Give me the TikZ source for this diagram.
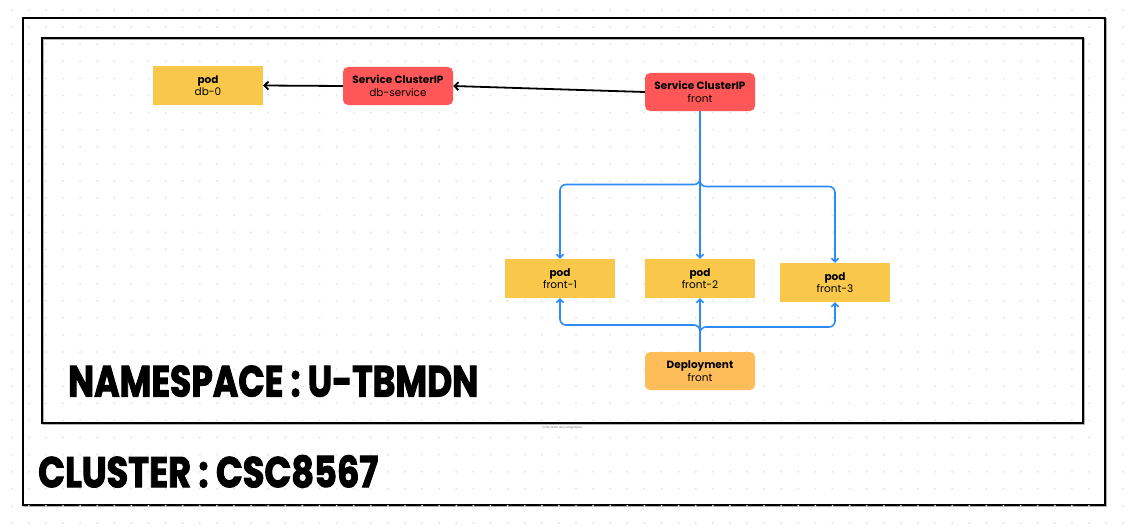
\documentclass[tikz,border=0pt]{standalone}
\usepackage{fontspec}
\usepackage{graphicx}
\setmainfont{Poppins}
\newfontfamily\heavyfont{Poppins}[FakeBold=2.5,UprightFont={* Bold}]
\usetikzlibrary{arrows.meta}
\definecolor{podyellow}{HTML}{F9C84A}
\definecolor{svcred}{HTML}{FF5757}
\definecolor{deporange}{HTML}{FFBD59}
\definecolor{linkblue}{HTML}{2E8BF5}
\definecolor{dotgray}{HTML}{E2E5EB}
\tikzset{
  podbox/.style={fill=podyellow, draw=none, minimum width=110pt, minimum height=39pt, inner sep=0pt, align=center, font=\fontsize{10.5}{12.5}\selectfont},
  svcbox/.style={fill=svcred, draw=none, rounded corners=5pt, minimum width=110pt, minimum height=38pt, inner sep=0pt, align=center, font=\fontsize{10.5}{12.5}\selectfont},
  depbox/.style={fill=deporange, draw=none, rounded corners=5pt, minimum width=110pt, minimum height=38pt, inner sep=0pt, align=center, font=\fontsize{10.5}{12.5}\selectfont},
  blackarrow/.style={draw=black, line width=1.8pt, -{Straight Barb[length=4pt,width=8pt]}},
  bluearrow/.style={draw=linkblue, line width=1.6pt, rounded corners=6pt, -{Straight Barb[length=3.5pt,width=7pt]}},
  frame/.style={draw=black, line width=2pt}
}
\begin{document}
\begin{tikzpicture}[x=1pt,y=-1pt]
\useasboundingbox (0,0) rectangle (1138,527);
\fill[white] (0,0) rectangle (1138,527);
% dot grid
\foreach \i in {0,...,66}{
  \foreach \j in {0,...,30}{
    \fill[dotgray] ({11.7+17.1*\i},{10+17.1*\j}) circle (1.1pt);
  }
}
% frames
\draw[gray!60, line width=2pt] (23.5,19) rectangle (1105.5,506);
\draw[frame] (22.5,18) rectangle (1104.5,505);
\fill[white] (24,19.5) rectangle (1103,503.5);
\foreach \i in {1,...,63}{
  \foreach \j in {1,...,29}{
    \fill[dotgray] ({11.7+17.1*\i},{10+17.1*\j}) circle (1.1pt);
  }
}
\draw[gray!60, line width=2pt] (43,39.5) rectangle (1084,424);
\draw[frame] (42,38.5) rectangle (1083,423);

% nodes
\node[podbox] (db0) at (208,85.5) {\textbf{pod}\\db-0};
\node[svcbox] (dbsvc) at (398,86) {\textbf{Service ClusterIP}\\db-service};
\node[svcbox] (frontsvc) at (700,92) {\textbf{Service ClusterIP}\\front};
\node[podbox] (f1) at (560,278.5) {\textbf{pod}\\front-1};
\node[podbox] (f2) at (700,278.5) {\textbf{pod}\\front-2};
\node[podbox] (f3) at (835,282.5) {\textbf{pod}\\front-3};
\node[depbox] (dep) at (700,371) {\textbf{Deployment}\\front};

% black connectors
\draw[blackarrow] (frontsvc.west) -- (dbsvc.east);
\draw[blackarrow] (dbsvc.west) -- (db0.east);

% blue connectors from service
\coordinate (splitL) at (700,184.5);
\coordinate (splitR) at (700,186.5);
\draw[bluearrow] (frontsvc.south) -- (splitL) -| (f1.north);
\draw[bluearrow] (frontsvc.south) -- (f2.north);
\draw[bluearrow] (frontsvc.south) -- (splitR) -| (f3.north);

% blue connectors from deployment
\coordinate (joinL) at (700,325);
\coordinate (joinR) at (700,327);
\draw[bluearrow] (dep.north) -- (joinL) -| (f1.south);
\draw[bluearrow] (dep.north) -- (f2.south);
\draw[bluearrow] (dep.north) -- (joinR) -| (f3.south);

% big labels
\node[anchor=south west, inner sep=0pt] (nslabel) at (68,397) {\resizebox{410pt}{31pt}{\heavyfont NAMESPACE : U-TBMDN}};
\node[anchor=south west, inner sep=0pt] (cllabel) at (38,488) {\resizebox{340pt}{32pt}{\heavyfont CLUSTER : CSC8567}};
\node[inner sep=0pt, text=gray, font=\fontsize{3}{4}\selectfont] (para) at (562,427.5) {Votre texte de paragraphe};
\end{tikzpicture}
\end{document}
